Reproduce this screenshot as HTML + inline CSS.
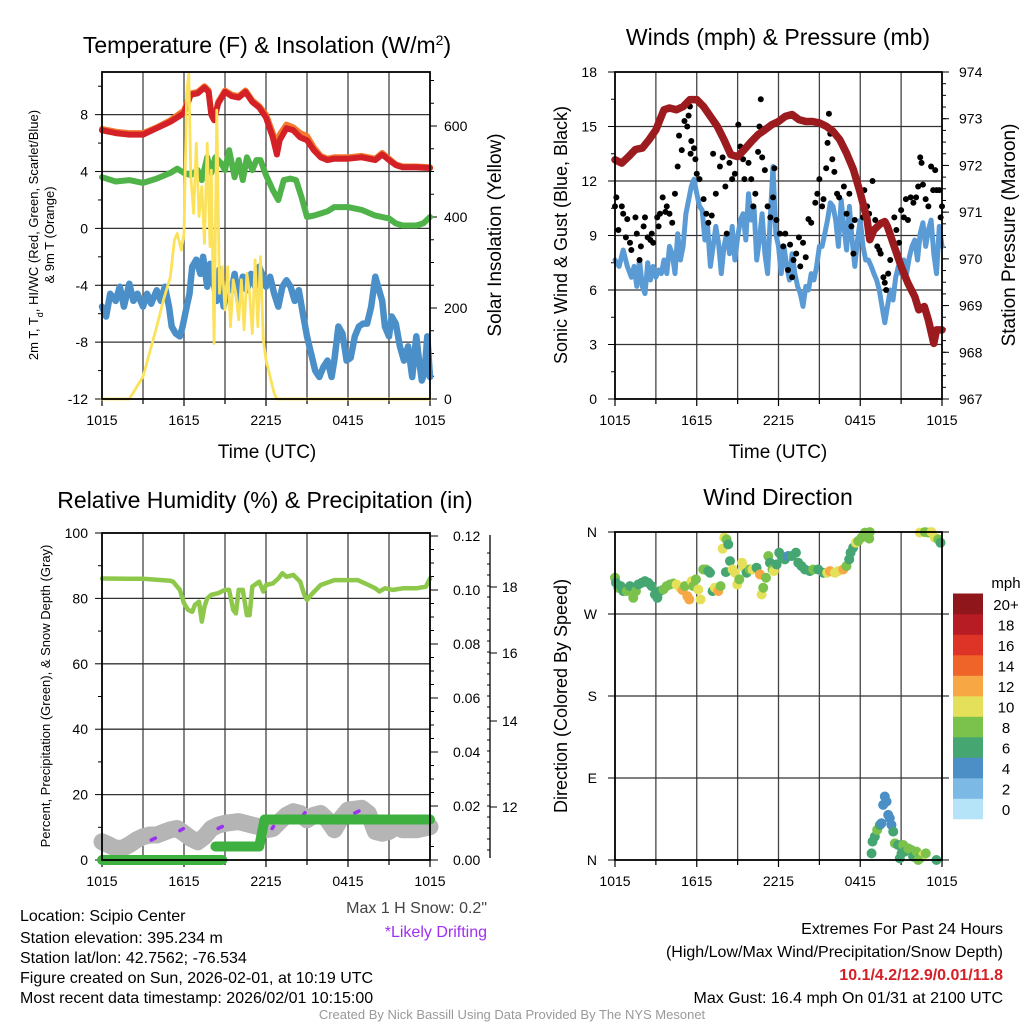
<!DOCTYPE html>
<html><head><meta charset="utf-8"><style>
html,body{margin:0;padding:0;background:#fff;}
svg{display:block;font-family:"Liberation Sans",Arial,sans-serif;}
</style></head><body>
<svg id="fig" width="1024" height="1024" viewBox="0 0 1024 1024" xmlns="http://www.w3.org/2000/svg">
<rect width="1024" height="1024" fill="#fff"/>
<g id="p1"></g>
<g id="p2"></g>
<g id="p3"></g>
<g id="p4"></g>
<g id="cb"></g>

<text x="267" y="53" font-size="23" text-anchor="middle">Temperature (F) &amp; Insolation (W/m<tspan baseline-shift="super" font-size="14">2</tspan>)</text>
<text x="778" y="45" font-size="23" text-anchor="middle">Winds (mph) &amp; Pressure (mb)</text>
<text x="265" y="508" font-size="23" text-anchor="middle">Relative Humidity (%) &amp; Precipitation (in)</text>
<text x="778" y="505" font-size="23" text-anchor="middle">Wind Direction</text>

<text transform="translate(38,235) rotate(-90)" font-size="13" text-anchor="middle">2m T, T<tspan baseline-shift="sub" font-size="9">d</tspan>, HI/WC (Red, Green, Scarlet/Blue)</text>
<text transform="translate(54,235) rotate(-90)" font-size="13" text-anchor="middle">&amp; 9m T (Orange)</text>
<text transform="translate(501,235) rotate(-90)" font-size="19" text-anchor="middle">Solar Insolation (Yellow)</text>
<text transform="translate(567,235) rotate(-90)" font-size="18" text-anchor="middle">Sonic Wind &amp; Gust (Blue, Black)</text>
<text transform="translate(1015,235) rotate(-90)" font-size="19" text-anchor="middle">Station Pressure (Maroon)</text>
<text transform="translate(50,696) rotate(-90)" font-size="13" text-anchor="middle">Percent, Precipitation (Green), &amp; Snow Depth (Gray)</text>
<text transform="translate(567,696) rotate(-90)" font-size="18" text-anchor="middle">Direction (Colored By Speed)</text>
<text x="267" y="458" font-size="19" text-anchor="middle">Time (UTC)</text>
<text x="778" y="458" font-size="19" text-anchor="middle">Time (UTC)</text>

<g font-size="16">
<text x="20" y="921">Location: Scipio Center</text>
<text x="20" y="943">Station elevation: 395.234 m</text>
<text x="20" y="963">Station lat/lon: 42.7562; -76.534</text>
<text x="20" y="983">Figure created on Sun, 2026-02-01, at 10:19 UTC</text>
<text x="20" y="1003">Most recent data timestamp: 2026/02/01 10:15:00</text>
</g>
<text x="487" y="913" font-size="16" fill="#444" text-anchor="end">Max 1 H Snow: 0.2"</text>
<text x="487" y="937" font-size="16" fill="#a030f0" text-anchor="end">*Likely Drifting</text>
<g font-size="16" text-anchor="end">
<text x="1003" y="934">Extremes For Past 24 Hours</text>
<text x="1003" y="957">(High/Low/Max Wind/Precipitation/Snow Depth)</text>
<text x="1003" y="980" fill="#d42027" font-weight="bold">10.1/4.2/12.9/0.01/11.8</text>
<text x="1003" y="1003">Max Gust: 16.4 mph On 01/31 at 2100 UTC</text>
</g>
<text x="512" y="1019" font-size="13" fill="#999" text-anchor="middle">Created By Nick Bassill Using Data Provided By The NYS Mesonet</text>
</svg>
<script>
// ---------- Panel 1 data ----------
const tTemp=[0,1,2,3,4,5,6,6.5,7,7.5,7.8,8.0,8.2,8.5,9,9.5,10,10.5,11,11.5,12,12.5,12.8,13,13.5,14,14.5,15,15.5,16,16.5,17,18,19,20,20.5,21,21.5,22,23,24];
const temp2m=[6.9,6.7,6.6,6.6,7.05,7.5,8.1,9.4,9.5,9.9,9.6,8.0,7.6,8.8,9.6,9.3,9.2,9.6,8.9,8.5,7.8,6.4,5.2,6.2,7.05,6.9,6.4,6.2,5.5,5.0,4.8,4.9,4.9,5.0,4.8,5.2,4.8,4.45,4.3,4.3,4.25];
const temp9m=[7.0,6.8,6.7,6.7,7.1,7.6,8.3,9.5,9.6,10.0,9.7,8.1,7.7,8.9,9.7,9.4,9.3,9.7,9.0,8.6,8.0,6.7,5.8,6.6,7.3,7.1,6.7,6.5,5.7,5.1,4.9,5.0,5.0,5.1,4.9,5.3,4.9,4.5,4.35,4.35,4.3];
const tDew=[0,1,2,3,4,5,5.5,6,6.5,7,7.3,7.7,8,8.3,8.7,9,9.3,9.7,10,10.3,10.6,11,11.3,11.6,12,12.5,12.9,13.3,13.8,14.2,14.6,15,15.5,16,16.5,17,18,19,20,21,21.5,22,23,23.5,24];
const dewpt=[3.6,3.3,3.4,3.2,3.5,3.9,4.2,3.9,3.75,4.1,3.4,5.0,3.9,5.0,4.6,4.1,5.5,3.6,4.8,3.4,5.0,4.1,4.8,4.8,3.75,2.7,2.0,3.4,3.5,3.4,2.2,0.8,0.9,1.05,1.2,1.5,1.5,1.3,0.9,0.7,0.35,0.2,0.2,0.35,0.8];
const tChill=[0,0.3,0.6,1.0,1.3,1.6,2.0,2.3,2.6,3.0,3.3,3.6,4.0,4.3,4.6,4.9,5.1,5.4,5.7,5.9,6.2,6.4,6.6,6.9,7.2,7.4,7.7,7.9,8.1,8.4,8.6,8.9,9.2,9.5,9.7,10.0,10.3,10.6,10.9,11.2,11.5,11.8,12.0,12.3,12.6,12.9,13.2,13.5,13.8,14.1,14.4,14.7,15.0,15.3,15.6,15.9,16.2,16.5,16.8,17.0,17.3,17.6,17.9,18.2,18.5,18.8,19.1,19.4,19.7,20.0,20.2,20.5,20.7,21.0,21.2,21.5,21.8,22.1,22.4,22.7,23.0,23.2,23.4,23.6,23.8,24.0];
const windChill=[-5.5,-6.2,-4.6,-5.1,-4.1,-5.5,-3.9,-5.1,-4.6,-5.5,-4.6,-5.3,-4.35,-5.1,-4.1,-5.5,-6.9,-7.4,-7.6,-6.9,-5.5,-4.6,-2.7,-2.2,-3.2,-2.0,-4.1,-2.5,-3.4,-5.1,-2.9,-5.5,-4.1,-4.35,-3.2,-5.1,-3.4,-4.35,-3.2,-4.1,-2.7,-3.4,-4.1,-3.4,-4.6,-5.5,-4.1,-3.65,-4.1,-5.1,-4.35,-6.0,-7.6,-8.8,-10.0,-10.45,-9.75,-9.3,-10.45,-9.3,-6.9,-7.4,-9.3,-9.1,-7.6,-6.9,-6.7,-6.7,-5.5,-3.4,-4.1,-5.1,-6.9,-7.6,-6.2,-6.7,-8.3,-9.3,-8.3,-10.45,-7.6,-9.3,-10.7,-10.2,-7.6,-10.45];
const tSolar=[0,2,3,4,4.5,5,5.3,5.5,5.8,6,6.2,6.35,6.5,6.7,6.9,7.1,7.3,7.5,7.7,7.9,8.0,8.2,8.4,8.6,8.8,9,9.2,9.4,9.6,9.8,10,10.2,10.4,10.6,10.8,11,11.2,11.4,11.6,11.8,12,12.3,12.6,12.8,24];
const solar=[0,0,49,159,218,268,349,364,327,364,672,716,489,408,562,401,467,342,562,335,503,122,635,232,291,196,291,159,262,232,174,262,152,276,232,144,306,159,313,130,86,49,12,0,0];
const timeLabels=["1015","1615","2215","0415","1015"];
const tempTicks=[-12,-8,-4,0,4,8];
const solarTicks=[0,200,400,600];
// ---------- Panel 2 data ----------
const windT=[0,0.3,0.6,0.9,1.2,1.4,1.6,1.8,2.0,2.2,2.4,2.6,2.8,3.0,3.2,3.4,3.6,3.8,4.0,4.2,4.4,4.6,4.8,5.0,5.2,5.4,5.6,5.8,6.0,6.2,6.4,6.6,6.8,7.0,7.2,7.4,7.6,7.8,8.0,8.2,8.4,8.6,8.8,9.0,9.2,9.4,9.6,9.8,10.0,10.2,10.4,10.6,10.8,11.0,11.2,11.4,11.6,11.8,12.0,12.2,12.4,12.6,12.8,13.0,13.2,13.4,13.6,13.8,14.0,14.2,14.4,14.6,14.8,15.0,15.2,15.4,15.6,15.8,16.0,16.2,16.4,16.6,16.8,17.0,17.2,17.4,17.6,17.8,18.0,18.2,18.4,18.6,18.8,19.0,19.2,19.4,19.6,19.8,20.0,20.2,20.4,20.6,20.8,21.0,21.2,21.4,21.6,21.8,22.0,22.2,22.4,22.6,22.8,23.0,23.2,23.4,23.6,23.8,24.0];
const windSpd=[7.65,7.3,8.2,7.3,6.7,7.3,6.2,7.65,6.2,5.8,7.5,6.55,7.3,6.7,7.1,6.9,7.65,6.9,8.4,8.0,6.9,9.1,7.65,8.4,10.2,10.95,11.7,12.1,11.3,10.6,10.4,8.75,9.5,7.3,8.4,9.5,8.6,6.9,8.4,9.1,8.0,9.5,7.65,8.9,9.85,10.2,8.75,11.3,9.85,10.6,7.65,8.75,10.2,8.0,6.9,10.0,12.8,9.1,8.4,6.9,8.4,7.3,6.55,8.0,6.9,6.2,5.8,5.1,6.2,6.0,6.9,6.55,7.3,8.4,8.4,9.1,9.85,10.8,10.6,9.85,8.4,10.95,9.5,8.2,10.6,8.75,7.3,8.75,9.85,8.4,7.65,7.65,7.3,6.9,6.55,6.0,5.1,4.2,5.1,6.0,5.45,6.7,7.3,6.9,7.65,6.9,7.8,8.4,8.75,7.65,9.1,9.7,8.4,9.3,9.85,8.0,6.9,9.5,8.4];
const gustT=[0,0.1,0.25,0.5,0.6,0.8,0.9,1.1,1.2,1.5,1.6,1.8,1.9,2.1,2.2,2.4,2.6,2.7,2.8,3.1,3.2,3.3,3.5,3.7,3.8,4.0,4.2,4.4,4.6,4.7,4.9,5.1,5.3,5.4,5.5,5.55,5.6,5.8,5.9,6.0,6.2,6.5,6.7,6.85,7.1,7.2,7.4,7.6,7.7,7.9,8.1,8.2,8.4,8.6,8.8,9.05,9.2,9.4,9.5,9.8,10.0,10.15,10.3,10.5,10.6,10.7,10.8,11.0,11.2,11.4,11.6,11.7,11.85,12.1,12.35,12.5,12.7,12.85,13.0,13.1,13.3,13.5,13.6,13.8,14.0,14.2,14.4,14.7,14.85,15.0,15.2,15.3,15.5,15.6,15.7,15.8,15.95,16.1,16.3,16.45,16.6,16.8,17.0,17.2,17.35,17.5,17.6,17.7,17.9,18.1,18.2,18.3,18.5,18.65,18.9,19.1,19.25,19.4,19.5,19.7,19.8,19.9,20.05,20.2,20.5,20.65,20.85,21.0,21.2,21.35,21.5,21.7,21.9,22.1,22.25,22.4,22.5,22.6,22.8,23.0,23.2,23.35,23.5,23.6,23.8,23.9,24];
const gustSpd=[10.6,11.1,9.3,10.6,10.2,8.9,9.9,8.6,8.2,10.0,9.1,7.65,8.4,9.5,10.0,8.9,8.75,9.1,8.6,10.0,9.5,10.2,11.1,10.3,10.6,10.2,9.7,11.3,12.8,14.5,13.7,15.3,15.0,15.6,16.1,13.5,14.2,13.8,13.2,12.4,12.1,11.0,10.2,9.7,10.1,13.5,11.3,14.8,12.8,13.3,11.7,9.1,13.0,12.1,12.4,15.1,13.9,13.2,12.1,13.0,12.1,10.6,11.3,13.6,15.0,16.5,13.3,12.6,10.6,10.0,11.1,12.7,9.85,9.1,8.4,9.1,7.1,8.5,6.7,7.65,8.0,8.9,7.3,8.6,7.8,9.9,9.7,10.8,11.3,12.1,10.6,11.0,12.7,14.1,15.7,14.6,13.2,12.5,11.3,11.1,14.1,11.7,10.2,11.3,9.5,8.0,9.85,12.2,11.7,11.0,10.0,11.5,10.6,10.2,12.0,9.85,8.4,8.2,8.0,6.7,6.4,6.0,6.9,7.65,10.0,9.3,8.6,10.4,10.0,11.0,9.85,11.1,10.8,11.1,11.7,13.3,13.0,11.8,11.0,10.6,12.8,11.5,12.6,11.5,11.5,10.0,10.6];
const presT=[0,0.5,1,1.5,2,2.5,3,3.3,3.6,4,4.5,5,5.5,6,6.5,7,7.5,8,8.5,9,9.5,10,10.5,11,11.5,12,12.5,13,13.5,14,14.5,15,15.5,16,16.5,17,17.5,18,18.5,18.7,19,19.5,19.8,20,20.5,21,21.5,22,22.3,22.7,23,23.4,23.6,24];
const pressure=[972.12,972.05,972.19,972.34,972.37,972.55,972.76,972.98,973.19,973.23,973.19,973.26,973.41,973.41,973.26,973.05,972.84,972.55,972.23,972.19,972.34,972.51,972.66,972.76,972.87,972.94,973.05,973.09,972.98,972.94,972.94,972.91,972.84,972.73,972.55,972.26,971.91,971.41,970.84,970.41,970.62,970.76,970.8,970.69,970.26,969.84,969.48,969.19,968.91,968.98,968.69,968.19,968.48,968.48];
const windTicks=[0,3,6,9,12,15,18];
const presTicks=[967,968,969,970,971,972,973,974];
// ---------- Panel 3 data ----------
const rhT=[0,2,3,5,5.2,5.7,6.0,6.3,6.6,6.8,7.1,7.3,7.5,7.7,8.0,8.5,9,9.3,9.6,9.8,10,10.3,10.6,10.8,11,11.5,11.8,12,12.5,12.9,13.2,13.5,14,14.5,14.8,15,15.3,16,17,18,18.7,19.5,20,20.3,20.7,21.3,22,22.5,23,23.7,24];
const rh=[86.1,86.0,86.0,85.4,85.1,82.6,78.5,76.5,75.9,78.0,79.0,72.9,77.5,80.0,81.1,81.6,82.6,82.6,76.5,75.4,82.6,82.6,74.9,74.9,83.6,85.1,82.1,84.1,84.6,86.1,87.7,86.6,87.2,85.1,81.1,79.5,81.1,84.1,85.6,85.6,85.6,84.1,83.1,82.1,83.1,82.6,83.1,83.1,83.1,83.6,86.1];
const snowT=[0,0.5,1,1.5,2,2.5,3,3.5,4,5,5.5,6,6.5,7,7.5,8,8.5,9,10,11,11.5,12,12.5,13,13.5,14,14.5,15,15.5,16,16.5,17,17.5,18,19,19.5,20,20.5,21,21.5,22,23,24];
const snowDepth=[11.19,11.12,11.04,11.04,11.12,11.23,11.31,11.35,11.35,11.47,11.5,11.39,11.27,11.19,11.31,11.5,11.58,11.62,11.66,11.58,11.54,11.47,11.5,11.66,11.81,11.89,11.85,11.7,11.81,11.85,11.7,11.47,11.74,11.93,11.97,11.85,11.43,11.39,11.43,11.54,11.47,11.47,11.54];
const driftStart=[3.6,5.7,8.5,12.45,14.75,18.5];
const driftEnd=[3.9,5.95,8.8,12.55,14.85,18.8];
const driftDepth=[11.23,11.45,11.5,11.5,11.82,11.86];
const precipT=[0,8.8,8.3,11.5,11.9,24];
const precipV=[0,0,0.005,0.005,0.015,0.015];
const precipBreaks=[2];
const rhTicks=[0,20,40,60,80,100];
const precipTicks=[0,0.02,0.04,0.06,0.08,0.10,0.12];
const precipLabels=["0.00","0.02","0.04","0.06","0.08","0.10","0.12"];
const snowTicks=[12,14,16,18];
// ---------- Panel 4 data ----------
const dirT=[0,0.07,0.24,0.42,0.61,0.86,1.10,1.34,1.54,1.71,1.96,2.20,2.44,2.69,2.93,3.11,3.30,3.55,3.79,4.03,4.28,4.52,4.77,4.96,5.13,5.31,5.45,5.62,5.75,5.94,6.11,6.28,6.48,6.67,6.85,6.97,7.16,7.33,7.58,7.75,7.90,8.02,8.19,8.31,8.14,8.44,8.63,8.80,8.97,9.12,9.32,9.46,9.66,9.90,10.10,10.39,10.64,10.76,10.88,11.08,11.25,11.37,11.56,11.66,11.86,12.05,12.22,12.47,12.71,12.96,13.28,13.45,13.69,13.94,14.30,14.55,14.91,15.28,15.57,15.77,16.14,16.38,16.75,16.99,17.19,17.29,17.48,17.68,17.85,18.09,18.34,18.70,18.66,22.37,22.74,22.98,23.23,23.47,23.72,23.89,18.83,18.90,19.07,19.24,19.44,19.56,19.68,19.80,19.93,20.05,20.17,20.29,20.42,20.54,20.78,21.03,20.90,21.15,21.27,21.52,21.76,21.88,22.13,22.37,22.62,22.81,23.59,22.25];
const dirDeg=[309.8,304.3,298.8,300.6,295.1,295.1,300.6,287.8,295.1,302.4,304.3,306.1,304.3,300.6,291.4,287.8,295.1,296.9,300.6,302.4,303.5,302.4,298.8,296.2,300.6,289.6,286.0,306.1,300.6,308.0,296.9,286.0,318.9,318.9,317.1,315.3,295.1,298.8,295.1,300.6,341.7,353.8,351.9,346.4,316.0,328.1,318.9,315.3,302.4,308.0,326.3,320.8,315.3,318.9,318.9,320.8,313.4,291.4,298.8,309.8,333.6,326.3,318.9,317.1,324.4,337.3,333.6,330.0,333.6,333.6,337.3,326.3,322.6,318.9,317.1,318.9,318.9,315.3,315.3,317.1,315.3,317.1,318.9,322.6,330.0,337.3,342.8,348.3,350.1,353.8,359.3,359.9,352.7,359.3,359.9,359.3,359.9,353.8,351.9,348.3,7.3,20.2,25.7,33.0,38.5,40.3,60.5,69.7,64.2,49.5,45.8,38.5,31.2,18.3,16.5,7.3,1.8,16.5,9.2,12.8,11.0,3.7,9.2,1.8,5.5,7.3,0,0];
const dirSpd=[9,7,9,7,7,9,7,9,9,7,7,7,7,7,7,7,7,9,9,9,9,11,11,13,9,13,13,11,9,9,11,11,9,9,7,7,7,11,13,9,11,11,9,7,7,7,11,11,11,9,11,11,7,9,11,7,13,11,9,9,9,7,9,11,7,7,7,7,5,7,7,7,7,7,7,9,7,7,11,13,11,11,13,9,7,7,7,11,9,9,9,9,9,11,9,9,11,11,9,7,7,7,7,9,7,5,5,5,5,5,5,5,7,9,7,7,7,9,7,9,9,7,9,7,11,9,7,9,9];
const dirTicks=[0,90,180,270,360];
const dirLabels=["N","E","S","W","N"];
const cbLabels=["0","2","4","6","8","10","12","14","16","18","20+"];
const cbColors=["#b5e3f7","#7cb9e4","#4b8fc6","#45a672","#7bc24d","#e5e05a","#f7a845","#ef6428","#de3327","#b71c24","#8f161b"];

const NS="http://www.w3.org/2000/svg";
function el(tag,attrs,parent){const e=document.createElementNS(NS,tag);for(const k in attrs)e.setAttribute(k,attrs[k]);parent.appendChild(e);return e;}
function txt(s,attrs,parent){const e=el("text",attrs,parent);e.textContent=s;return e;}
function poly(xs,ys,sx,sy,parent,stroke,w,breaks){
  let d="";for(let i=0;i<Math.min(xs.length,ys.length);i++){d+=((i===0||(breaks&&breaks.includes(i)))?"M":"L")+sx(xs[i]).toFixed(1)+","+sy(ys[i]).toFixed(1);}
  return el("path",{d:d,fill:"none",stroke:stroke,"stroke-width":w,"stroke-linejoin":"round","stroke-linecap":"round"},parent);
}
function frame(g,x0,x1,y0,y1){
  for(let h=0;h<=24;h+=3){const x=x0+h*(x1-x0)/24;
    if(h>0&&h<24){const gl=el("line",{x1:x,x2:x,y1:y0,y2:y1,stroke:"#444","stroke-width":1.3},g);}
    el("line",{x1:x,x2:x,y1:y1,y2:y1+(h%6===0?7:5),stroke:"#000","stroke-width":1.2},g);}
  timeLabels.forEach((s,i)=>{const t=txt(s,{x:x0+i*6*(x1-x0)/24,y:y1+26,"font-size":14,"text-anchor":"middle"},g);});
}
function box(g,x0,x1,y0,y1){el("rect",{x:x0,y:y0,width:x1-x0,height:y1-y0,fill:"none",stroke:"#000","stroke-width":1.8},g);}

// ---------- Panel 1 ----------
(function(){
 const g=document.getElementById("p1");const X0=102,X1=430,Y0=72,Y1=399;
 const x=t=>X0+t*(X1-X0)/24, yL=v=>Y1-(v+12)*(Y1-Y0)/23, yR=w=>Y1-w*91/200;
 frame(g,X0,X1,Y0,Y1);
 tempTicks.forEach(v=>{const y=yL(v);if(v>-12)el("line",{x1:X0,x2:X1,y1:y,y2:y,stroke:"#333","stroke-width":1.3},g);
   el("line",{x1:X0-7,x2:X0,y1:y,y2:y,stroke:"#000"},g);
   const t=txt(String(v),{x:X0-14,y:y+5,"font-size":14,"text-anchor":"end"},g);});
 for(let v=-10;v<=10;v+=4)el("line",{x1:X0-4,x2:X0,y1:yL(v),y2:yL(v),stroke:"#000"},g);
 for(let w=0;w<=700;w+=50){el("line",{x1:X1,x2:X1+(w%200===0?7:4),y1:yR(w),y2:yR(w),stroke:"#000"},g);}
 solarTicks.forEach(w=>{const t=txt(String(w),{x:X1+14,y:yR(w)+5,"font-size":14},g);});
 let p;
 p=poly(tChill,windChill,x,yL,g,"#4a8fc8",6.5);
 p=poly(tDew,dewpt,x,yL,g,"#4fb34a",6);
 p=poly(tTemp,temp9m,x,yL,g,"#f47a2e",6);
 p=poly(tTemp,temp2m,x,yL,g,"#d42027",6);
 p=poly(tSolar,solar,x,yR,g,"#fbe25a",2.8);
 box(g,X0,X1,Y0,Y1);
})();
// ---------- Panel 2 ----------
(function(){
 const g=document.getElementById("p2");const X0=615,X1=942,Y0=72,Y1=399;
 const x=t=>X0+t*(X1-X0)/24, yL=m=>Y1-m*(Y1-Y0)/18, yR=p=>Y1-(p-967)*(Y1-Y0)/7;
 frame(g,X0,X1,Y0,Y1);
 windTicks.forEach(v=>{const y=yL(v);if(v>0&&v<18)el("line",{x1:X0,x2:X1,y1:y,y2:y,stroke:"#333","stroke-width":1.3},g);
   el("line",{x1:X0-7,x2:X0,y1:y,y2:y,stroke:"#000"},g);
   const t=txt(String(v),{x:X0-18,y:y+5,"font-size":14,"text-anchor":"end"},g);});
 for(let v=1.5;v<18;v+=3)el("line",{x1:X0-4,x2:X0,y1:yL(v),y2:yL(v),stroke:"#000"},g);
 presTicks.forEach(pv=>{el("line",{x1:X1,x2:X1+7,y1:yR(pv),y2:yR(pv),stroke:"#000"},g);
   const t=txt(String(pv),{x:X1+17,y:yR(pv)+5,"font-size":14},g);});
 for(let pv=967.25;pv<974;pv+=0.25)el("line",{x1:X1,x2:X1+4,y1:yR(pv),y2:yR(pv),stroke:"#000"},g);
 let p=poly(windT,windSpd,x,yL,g,"#5b9bd5",5);
 gustT.forEach((t,i)=>{const c=el("circle",{cx:x(t),cy:yL(gustSpd[i]),r:3,fill:"#000"},g);
   });
 p=poly(presT,pressure,x,yR,g,"#9b1b1e",7.5);
 box(g,X0,X1,Y0,Y1);
})();
// ---------- Panel 3 ----------
(function(){
 const g=document.getElementById("p3");const X0=102,X1=430,Y0=533,Y1=860;
 const x=t=>X0+t*(X1-X0)/24, yL=v=>Y1-v*(Y1-Y0)/100, yR=v=>Y1-v*2700;
 const sa=[[12,807],[14,721],[16,653],[18,587]];
 const yS=v=>{if(v<=12)return 807+(12-v)*43;for(let i=0;i<3;i++){if(v<=sa[i+1][0]){const f=(v-sa[i][0])/(sa[i+1][0]-sa[i][0]);return sa[i][1]+f*(sa[i+1][1]-sa[i][1]);}}return 587-(v-18)*33;};
 frame(g,X0,X1,Y0,Y1);
 rhTicks.forEach(v=>{const y=yL(v);if(v>0&&v<100)el("line",{x1:X0,x2:X1,y1:y,y2:y,stroke:"#333","stroke-width":1.3},g);
   el("line",{x1:X0-7,x2:X0,y1:y,y2:y,stroke:"#000"},g);
   const t=txt(String(v),{x:X0-14,y:y+5,"font-size":14,"text-anchor":"end"},g);});
 for(let v=10;v<100;v+=20)el("line",{x1:X0-4,x2:X0,y1:yL(v),y2:yL(v),stroke:"#000"},g);
 precipTicks.forEach((v,i)=>{el("line",{x1:X1,x2:X1+8,y1:yR(v),y2:yR(v),stroke:"#000"},g);
   const t=txt(precipLabels[i],{x:X1+23,y:yR(v)+5,"font-size":14},g);});
 for(let v=0.005;v<0.12;v+=0.005)el("line",{x1:X1,x2:X1+4,y1:yR(v),y2:yR(v),stroke:"#000"},g);
 const SX=490;
 const ax=el("line",{x1:SX,x2:SX,y1:Y0+2,y2:Y1-2,stroke:"#000","stroke-width":1.3},g);
 for(let y=Y0+20;y<Y1;y+=11)el("line",{x1:SX-3,x2:SX,y1:y,y2:y,stroke:"#000"},g);
 snowTicks.forEach(v=>{el("line",{x1:SX,x2:SX+7,y1:yS(v),y2:yS(v),stroke:"#000"},g);
   const t=txt(String(v),{x:SX+12,y:yS(v)+5,"font-size":14},g);});
 let p=poly(snowT,snowDepth,x,yS,g,"#b5b5b5",17);
 driftStart.forEach((t,i)=>{const s=el("line",{x1:x(t),x2:x(driftEnd[i]),y1:yS(driftDepth[i]),y2:yS(driftDepth[i])-2,stroke:"#9a30f0","stroke-width":3.5,"stroke-linecap":"round"},g);
   });
 p=poly(precipT,precipV,x,yR,g,"#3db040",10,precipBreaks);
 p=poly(rhT,rh,x,yL,g,"#8ec84a",4.5);
 box(g,X0,X1,Y0,Y1);
})();
// ---------- Panel 4 ----------
(function(){
 const g=document.getElementById("p4");const X0=615,X1=942,Y0=532,Y1=860;
 const x=t=>X0+t*(X1-X0)/24, y=d=>Y1-d*(Y1-Y0)/360;
 frame(g,X0,X1,Y0,Y1);
 dirTicks.forEach((d,i)=>{const yy=y(d);if(d>0&&d<360)el("line",{x1:X0,x2:X1,y1:yy,y2:yy,stroke:"#333","stroke-width":1.3},g);
   el("line",{x1:X0-7,x2:X0,y1:yy,y2:yy,stroke:"#000"},g);el("line",{x1:X1,x2:X1+7,y1:yy,y2:yy,stroke:"#000"},g);
   const t=txt(dirLabels[i],{x:X0-18,y:yy+5,"font-size":14,"text-anchor":"end"},g);});
 dirT.forEach((t,i)=>{const bin=Math.min(10,Math.floor(dirSpd[i]/2));
   const c=el("circle",{cx:x(t),cy:y(dirDeg[i]),r:5,fill:cbColors[bin]},g);
   });
 box(g,X0,X1,Y0,Y1);
})();
// ---------- Colorbar ----------
(function(){
 const g=document.getElementById("cb");const X=953,W=30,Ybot=819,H=20.5;
 cbColors.forEach((c,i)=>{const r=el("rect",{x:X,y:Ybot-(i+1)*H,width:W,height:H+0.3,fill:c},g);
   
   const t=txt(cbLabels[i],{x:1006,y:Ybot-(i+0.5)*H+6,"font-size":15,"text-anchor":"middle"},g);
   });
 const m=txt("mph",{x:1006,y:588,"font-size":15,"text-anchor":"middle"},g);
})();
</script>
</body></html>
